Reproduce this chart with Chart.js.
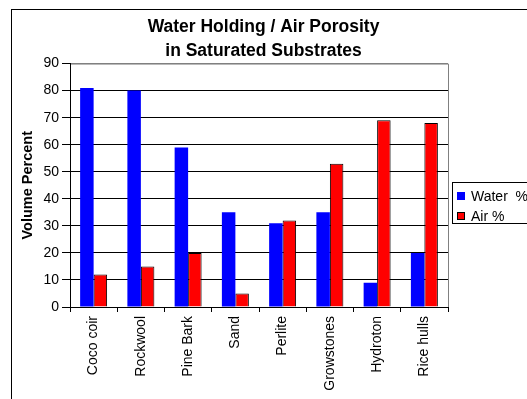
<!DOCTYPE html>
<html>
<head>
<meta charset="utf-8">
<script src="https://cdn.jsdelivr.net/npm/chart.js@4/dist/chart.umd.min.js"></script>
<style>
    html, body { margin: 0; padding: 0; background: #fff; overflow: hidden; }
    canvas { display: block; }
</style>
</head>
<body>
<canvas id="grafico" width="527" height="399"></canvas>
<script>
// --- Datos ---
const sustratos = ["Coco coir", "Rockwool", "Pine Bark", "Sand", "Perlite", "Growstones", "Hydroton", "Rice hulls"];
const agua = [81, 80, 59, 35, 31, 35, 9, 20];
const aire = [12, 15, 20, 5, 32, 53, 69, 68];
const ticksY = [0, 10, 20, 30, 40, 50, 60, 70, 80, 90];
const titulo = ["Water Holding / Air Porosity", "in Saturated Substrates"];

const fuente = "'Liberation Sans', Arial, sans-serif";

// --- Marco, borde del area y leyenda ---
const marcoPlugin = {
    id: "marco",
    beforeDraw(chart) {
        const { ctx, chartArea: a } = chart;
        ctx.save();
        ctx.fillStyle = "#fff";
        ctx.fillRect(0, 0, chart.width, chart.height);
        ctx.strokeStyle = "#000";
        ctx.lineWidth = 1;
        ctx.strokeRect(11.5, 9.5, 700, 500);
        ctx.strokeStyle = "#808080";
        ctx.beginPath();
        ctx.moveTo(a.left, a.top + 0.5);
        ctx.lineTo(a.right + 0.5, a.top + 0.5);
        ctx.lineTo(a.right + 0.5, a.bottom);
        ctx.stroke();
        ctx.restore();
    },
    afterDraw(chart) {
        const { ctx } = chart;
        ctx.save();
        ctx.strokeStyle = "#000";
        ctx.lineWidth = 1;
        ctx.strokeRect(452.5, 182.5, 200, 41);
        ctx.font = "14px " + fuente;
        ctx.textBaseline = "middle";
        chart.data.datasets.forEach((ds, i) => {
            const y = 196 + i * 20;
            ctx.fillStyle = ds.backgroundColor;
            ctx.fillRect(457, y - 4, 8, 8);
            if (ds.borderWidth) {
                ctx.strokeStyle = "#000";
                ctx.strokeRect(457.5, y - 3.5, 7, 7);
            }
            ctx.fillStyle = "#000";
            ctx.fillText(ds.label, 471, y + 1);
        });
        ctx.restore();
    }
};

// --- Grafico ---
new Chart(document.getElementById("grafico"), {
    type: "bar",
    data: {
        labels: sustratos,
        datasets: [
            { label: "Water  %", data: agua, backgroundColor: "#0000ff", borderColor: "#3333ff", borderWidth: 0 },
            { label: "Air %", data: aire, backgroundColor: "#ff0000", borderColor: "#000", borderWidth: 1 }
        ]
    },
    options: {
        responsive: false,
        animation: false,
        devicePixelRatio: 1,
        categoryPercentage: 0.571,
        barPercentage: 1.0,
        layout: { padding: 0 },
        plugins: {
            legend: { display: false },
            tooltip: { enabled: false },
            title: {
                display: true,
                text: titulo,
                color: "#000",
                font: { family: fuente, size: 17.5, weight: "bold", lineHeight: 1.33 },
                padding: { top: 16, bottom: 1 }
            }
        },
        scales: {
            x: {
                grid: { offset: true, drawOnChartArea: false, color: "#000", tickLength: 5 },
                border: { color: "#000" },
                ticks: {
                    color: "#000", autoSkip: false, minRotation: 90, maxRotation: 90, padding: 4,
                    font: { family: fuente, size: 14 }
                },
                afterFit: s => { s.height = 92; }
            },
            y: {
                min: 0,
                max: 90,
                afterBuildTicks: s => { s.ticks = ticksY.map(v => ({ value: v })); },
                grid: {
                    color: c => (c.tick && c.tick.value === 90 ? "#808080" : "#000"),
                    tickColor: "#000",
                    tickLength: 8
                },
                border: { color: "#000" },
                ticks: { color: "#000", padding: 3, font: { family: fuente, size: 14 } },
                title: {
                    display: true,
                    text: "Volume Percent",
                    color: "#000",
                    font: { family: fuente, size: 14.5, weight: "bold" },
                    padding: { top: 19, bottom: 0 }
                },
                afterFit: s => { s.width = 70; }
            },
            // hueco para la leyenda, asi el titulo queda centrado en todo el grafico
            hueco: {
                type: "linear",
                position: "right",
                display: true,
                grid: { display: false },
                border: { display: false },
                ticks: { display: false },
                afterFit: s => { s.width = 79; }
            }
        }
    },
    plugins: [marcoPlugin]
});
</script>
</body>
</html>
